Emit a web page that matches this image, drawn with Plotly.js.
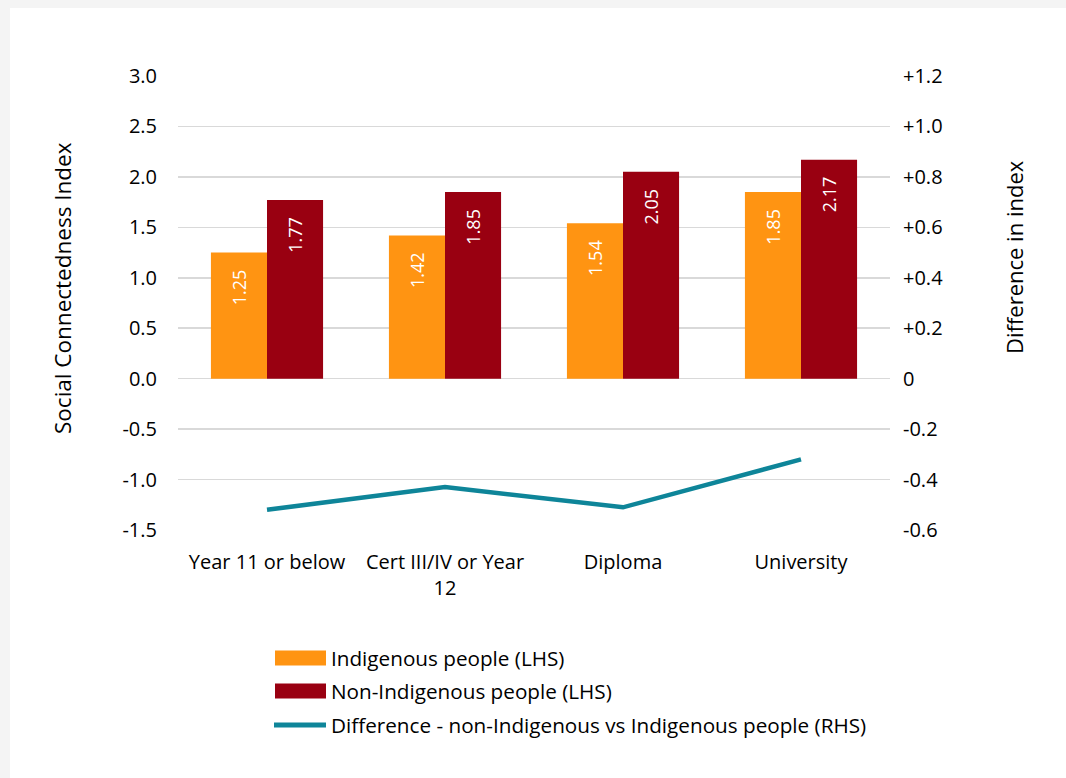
<!DOCTYPE html>
<html>
<head>
<meta charset="utf-8">
<script src="https://cdn.plot.ly/plotly-3.0.1.min.js"></script>
<style>
html,body{margin:0;padding:0;background:#f4f4f4;width:1066px;height:778px;overflow:hidden;}
#bg{position:absolute;left:10px;top:8px;width:1056px;height:770px;background:#ffffff;}
#chart{position:absolute;left:0;top:0;width:1066px;height:778px;}
</style>
</head>
<body>
<div id="bg"></div>
<div id="chart"></div>
<script>
const categories = ["Year 11 or below", "Cert III/IV or Year<br>12", "Diploma", "University"];
const indigenous = [1.25, 1.42, 1.54, 1.85];
const nonIndigenous = [1.77, 1.85, 2.05, 2.17];
const difference = [-0.52, -0.43, -0.51, -0.32];
const leftTicks = [-1.5, -1.0, -0.5, 0, 0.5, 1.0, 1.5, 2.0, 2.5, 3.0];
const leftTickText = ["-1.5", "-1.0", "-0.5", "0.0", "0.5", "1.0", "1.5", "2.0", "2.5", "3.0"];
const rightTicks = [-0.6, -0.4, -0.2, 0, 0.2, 0.4, 0.6, 0.8, 1.0, 1.2];
const rightTickText = ["-0.6", "-0.4", "-0.2", "0", "+0.2", "+0.4", "+0.6", "+0.8", "+1.0", "+1.2"];
const seriesNames = ["Indigenous people (LHS)", "Non-Indigenous people (LHS)", "Difference - non-Indigenous vs Indigenous people (RHS)"];
const leftTitle = "Social Connectedness Index";
const rightTitle = "Difference in index";

const FONT = "'Open Sans', 'Noto Sans', sans-serif";
const ORANGE = "#FF9412", MAROON = "#990011", TEAL = "#0E8599";
const PAD = "\u00a0\u00a0\u00a0";

const traces = [
  {type:"bar", name:seriesNames[0], x:categories, y:indigenous, marker:{color:ORANGE},
   text:indigenous.map(v=>v.toFixed(2)+PAD), textposition:"inside", insidetextanchor:"end", textangle:-90,
   textfont:{color:"#ffffff", size:18, family:FONT}, showlegend:false, hoverinfo:"y"},
  {type:"bar", name:seriesNames[1], x:categories, y:nonIndigenous, marker:{color:MAROON},
   text:nonIndigenous.map(v=>v.toFixed(2)+PAD), textposition:"inside", insidetextanchor:"end", textangle:-90,
   textfont:{color:"#ffffff", size:18, family:FONT}, showlegend:false, hoverinfo:"y"},
  {type:"scatter", mode:"lines", name:seriesNames[2], x:categories, y:difference, yaxis:"y2",
   line:{color:TEAL, width:4.5}, showlegend:false}
];

// custom legend (paper coords)
function px2x(px){return (px-178)/712;}
function py2y(py){return (530-py)/454;}
const legendRows = [
  {y:658, kind:"rect", color:ORANGE},
  {y:691, kind:"rect", color:MAROON},
  {y:725, kind:"line", color:TEAL}
];
const shapes = [], annotations = [];
legendRows.forEach((r,i)=>{
  if(r.kind==="rect"){
    shapes.push({type:"rect", xref:"paper", yref:"paper", x0:px2x(275), x1:px2x(326), y0:py2y(r.y-7.5), y1:py2y(r.y+7.5),
      fillcolor:r.color, line:{width:0}});
  } else {
    shapes.push({type:"line", xref:"paper", yref:"paper", x0:px2x(274), x1:px2x(326), y0:py2y(r.y), y1:py2y(r.y),
      line:{color:r.color, width:5}});
  }
  annotations.push({xref:"paper", yref:"paper", x:px2x(329), y:py2y(r.y), xanchor:"left", yanchor:"middle",
    text:seriesNames[i], showarrow:false, font:{family:FONT, size:20.7, color:"#000000"}});
});
annotations.push({xref:"paper", yref:"paper", x:px2x(1014), y:py2y(257), xanchor:"center", yanchor:"middle",
  text:rightTitle, textangle:-90, showarrow:false, font:{family:FONT, size:22, color:"#000000"}});
annotations.push({xref:"paper", yref:"paper", x:px2x(62), y:py2y(288), xanchor:"center", yanchor:"middle",
  text:leftTitle, textangle:-90, showarrow:false, font:{family:FONT, size:22.5, color:"#000000"}});

const layout = {
  width:1066, height:778,
  paper_bgcolor:"rgba(0,0,0,0)", plot_bgcolor:"rgba(0,0,0,0)",
  margin:{l:178, r:176, t:76, b:248},
  font:{family:FONT, size:20, color:"#000000"},
  barmode:"group", bargap:0.37, bargroupgap:0,
  showlegend:false,
  xaxis:{type:"category", showgrid:false, zeroline:false, showline:false, ticks:"",
    tickfont:{family:FONT, size:20, color:"#000"}, ticklabelstandoff:18},
  yaxis:{range:[-1.5,3.0], tickvals:leftTicks, ticktext:leftTickText, showgrid:true, gridcolor:"#d9d9d9", gridwidth:1.5,
    zeroline:false, showline:false, ticks:"", ticklabelstandoff:20,
    tickfont:{family:FONT, size:20, color:"#000"}},
  yaxis2:{range:[-0.6,1.2], tickvals:rightTicks, ticktext:rightTickText, overlaying:"y", side:"right",
    showgrid:false, zeroline:false, showline:false, ticks:"", ticklabelstandoff:12,
    tickfont:{family:FONT, size:20, color:"#000"}},
  shapes:shapes, annotations:annotations
};

Plotly.newPlot("chart", traces, layout, {displayModeBar:false, staticPlot:true});
</script>
</body>
</html>
